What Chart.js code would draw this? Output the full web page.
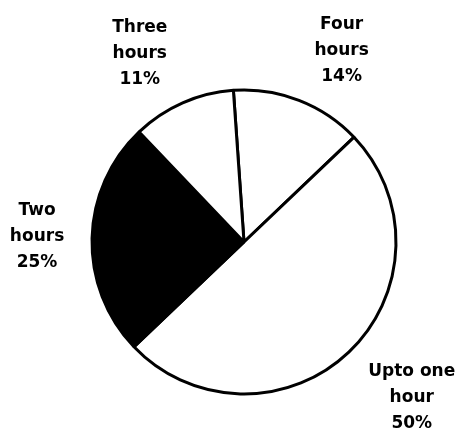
<!DOCTYPE html>
<html>
<head>
<meta charset="utf-8">
<script src="https://cdn.jsdelivr.net/npm/chart.js@4"></script>
<style>
  html, body { margin: 0; padding: 0; background: #ffffff; }
  #wrap { width: 459px; height: 432px; }
</style>
</head>
<body>
<div id="wrap"><canvas id="c" width="459" height="432"></canvas></div>
<script>
const categories = ["Four hours", "Upto one hour", "Two hours", "Three hours"];
const labelLines = [["Four", "hours"], ["Upto one", "hour"], ["Two", "hours"], ["Three", "hours"]];
const percentages = [14, 50, 25, 11];
const sliceColors = ["#ffffff", "#ffffff", "#000000", "#ffffff"];

// label placement relative to each slice's mid-angle (degrees shift, distance from centre)
const labelAngleShift = [5.8, -3.5, 0, -5.2];
const labelDistance = [215, 229, 207, 215];

const outsideLabels = {
  id: "outsideLabels",
  afterDatasetsDraw(chart) {
    const ctx = chart.ctx;
    const meta = chart.getDatasetMeta(0);
    ctx.save();
    ctx.fillStyle = "#000000";
    ctx.font = "bold 17px 'DejaVu Sans', sans-serif";
    ctx.textAlign = "center";
    ctx.textBaseline = "middle";
    meta.data.forEach((arc, i) => {
      const p = arc.getProps(["x", "y", "startAngle", "endAngle"], true);
      const mid = (p.startAngle + p.endAngle) / 2 + labelAngleShift[i] * Math.PI / 180;
      const cx = p.x + Math.cos(mid) * labelDistance[i];
      const cy = p.y + Math.sin(mid) * labelDistance[i];
      const lines = labelLines[i].concat([percentages[i] + "%"]);
      const lh = 26;
      lines.forEach((t, k) => {
        ctx.fillText(t, cx, cy + (k - (lines.length - 1) / 2) * lh);
      });
    });
    ctx.restore();
  }
};

new Chart(document.getElementById("c"), {
  type: "pie",
  data: {
    labels: categories,
    datasets: [{
      data: percentages,
      backgroundColor: sliceColors,
      borderColor: "#000000",
      borderWidth: 3,
      radius: 152
    }]
  },
  options: {
    responsive: false,
    animation: false,
    rotation: -4,
    layout: { padding: { left: 29, right: 0, top: 52, bottom: 0 } },
    plugins: {
      legend: { display: false },
      tooltip: { enabled: false }
    }
  },
  plugins: [outsideLabels]
});
</script>
</body>
</html>
